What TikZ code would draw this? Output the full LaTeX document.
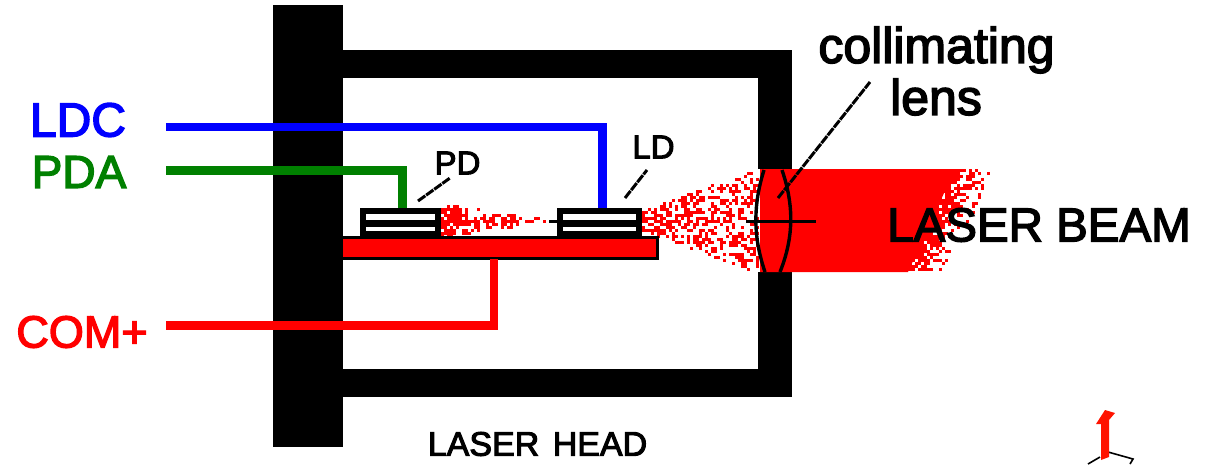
\documentclass[tikz,border=0pt]{standalone}
\usepackage{fontspec}
\setmainfont{Liberation Sans}
\newfontfamily\heavy[FakeBold=3]{Liberation Sans}
\definecolor{wgreen}{RGB}{0,128,0}
\definecolor{wblue}{RGB}{0,0,255}
\definecolor{wred}{RGB}{255,0,0}
\newcommand{\lbl}[1]{\fontsize{#1}{#1}\selectfont\heavy}
\tikzset{
  wire/.style={line width=8.6pt,line join=miter},
  wall/.style={fill=black,draw=none},
  leader/.style={draw=black,line width=3pt,dash pattern=on 9pt off 1pt},
  chip/.style={draw=black,line width=6pt,fill=white,minimum height=23pt,inner sep=0pt,outer sep=0pt,anchor=north west},
  txt/.style={inner sep=0pt,anchor=center},
}
\newcommand{\speck}[2]{\fill[wred] (#1,#2) rectangle ++(3,3);}
\begin{document}
\begin{tikzpicture}[x=1pt,y=-1pt]
\useasboundingbox (0,0) rectangle (1218,464);
% housing
\fill[wall] (273,5) rectangle (343,447);
\fill[wall] (343,50) rectangle (792,78);
\fill[wall] (343,369) rectangle (792,397);
\fill[wall] (758,50) rectangle (792,169);
\fill[wall] (758,272) rectangle (792,397);
% beam
\fill[wred] (760,169) -- (955,169) -- (908,272) -- (760,272) -- cycle;
\pgfmathsetseed{4711}
% beam end speckle
\foreach \x in {900,903,...,996}{
  \foreach \y in {169,172,...,269}{
    \pgfmathsetmacro{\t}{(995-(\y-169)*0.42-\x)/50}
    \pgfmathsetmacro{\p}{\t<0?0:min(0.88,\t*1.1)}
    \pgfmathparse{(rnd<\p)?1:0}
    \ifnum\pgfmathresult=1 \speck{\x}{\y}\fi
  }
}
% cone, LD to lens
\foreach \x in {642,645,...,757}{
  \pgfmathsetmacro{\hw}{10+(\x-642)*0.37}
  \foreach \y in {172,175,...,271}{
    \pgfmathparse{(abs(\y+1.5-221)<\hw && rnd<(0.62-(\x-642)*0.0022))?1:0}
    \ifnum\pgfmathresult=1 \speck{\x}{\y}\fi
  }
}
% cone, LD back to PD
\foreach \x in {441,444,...,549}{
  \pgfmathsetmacro{\hw}{max(1.5,17-(\x-441)*0.15)}
  \foreach \y in {205,208,...,238}{
    \pgfmathparse{(abs(\y+1.5-221)<\hw && rnd<(0.72-(\x-441)*0.0035))?1:0}
    \ifnum\pgfmathresult=1 \speck{\x}{\y}\fi
  }
}
\fill[black] (549,220) rectangle (557,223);
% base plate
\node[draw=black,fill=wred,line width=3pt,minimum width=316pt,minimum height=21pt,inner sep=0pt,outer sep=0pt,anchor=north west] (plate) at (341.5,237.5) {};
% chips
\node[chip,minimum width=75pt] (pdchip) at (363,211) {};
\node[chip,minimum width=79pt] (ldchip) at (560,211) {};
\fill[black] (360,220) rectangle (441,227);
\fill[black] (557,220) rectangle (642,227);
% wires
\coordinate (ldcstart) at (166,127);
\coordinate (ldctop) at (602.5,208);
\coordinate (pdastart) at (166,170.5);
\coordinate (pdatop) at (402.5,208);
\coordinate (comstart) at (166,325.5);
\coordinate (comtop) at (494,259);
\draw[wire,wblue] (ldcstart) -| (ldctop);
\draw[wire,wgreen] (pdastart) -| (pdatop);
\draw[wire,wred] (comstart) -| (comtop);
% lens
\draw[black,line width=3.4pt] (764,170) .. controls (753,205) and (753,237) .. (765,272);
\draw[black,line width=3.4pt] (782,170) .. controls (794,205) and (794,237) .. (780,272);
\coordinate (axisl) at (746,221);
\coordinate (axisr) at (816,221);
\draw[black,line width=3pt] (axisl) -- (axisr);
% labels
\node[txt,text=wblue] (ldc) at (78,120) {\lbl{48}LDC};
\node[txt,text=wgreen] (pda) at (79,172) {\lbl{46}PDA};
\node[txt,text=wred] (com) at (82,332) {\lbl{45}COM+};
\node[txt] (pd) at (457.5,163) {\lbl{33}PD};
\node[txt] (ld) at (653.5,147) {\lbl{33}LD};
\node[txt] (coll) at (936.5,50) {\lbl{50}collimating};
\node[txt] (lens) at (936,97) {\lbl{50}lens};
\node[txt] (beam) at (1039,225) {\lbl{47.5}LASER BEAM};
\node[txt] (head) at (537.5,444) {\lbl{34}LASER\hspace{4pt} HEAD};
% leaders
\coordinate (pdtip) at (418,201);
\coordinate (ldtip) at (625,198);
\coordinate (lenstip) at (778,198);
\draw[leader] (pdtip) -- (450,178);
\draw[leader] (ldtip) -- (647,170);
\draw[leader] (lenstip) -- (870,82);
% corner axis mark
\draw[black,line width=1.6pt] (1088,464) -- (1100,457) (1108,452) -- (1133,459) -- (1130,464);
\fill[red!85!orange] (1101,460) -- (1101,424) -- (1096,424) -- (1105,410) -- (1115,413) -- (1109,420) -- (1109,457) -- cycle;
\end{tikzpicture}
\end{document}
